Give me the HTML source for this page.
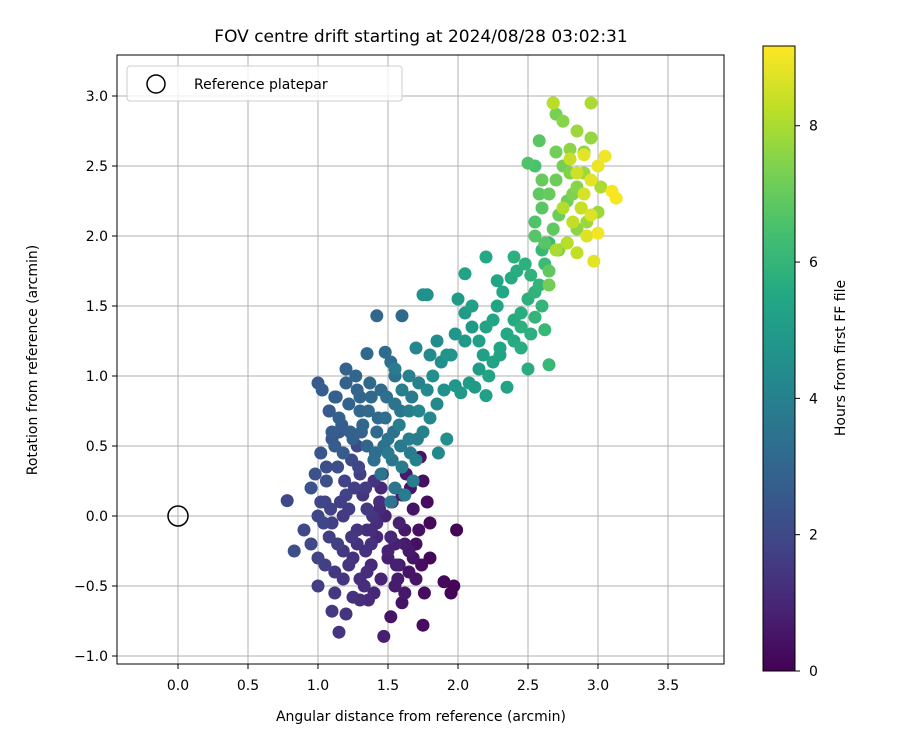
<!DOCTYPE html>
<html><head><meta charset="utf-8"><style>
body{margin:0;background:#fff;}
svg text{font-family:"DejaVu Sans","Liberation Sans",sans-serif;fill:#000;}
</style></head><body>
<svg id="chart" width="900" height="750" xmlns="http://www.w3.org/2000/svg">
<defs>
<linearGradient id="vir" x1="0" y1="1" x2="0" y2="0">
<stop offset="0" stop-color="#440154"/><stop offset="0.1" stop-color="#482475"/><stop offset="0.2" stop-color="#414487"/><stop offset="0.3" stop-color="#355f8d"/><stop offset="0.4" stop-color="#2a788e"/><stop offset="0.5" stop-color="#21918c"/><stop offset="0.6" stop-color="#22a884"/><stop offset="0.7" stop-color="#44bf70"/><stop offset="0.8" stop-color="#7ad151"/><stop offset="0.9" stop-color="#bddf26"/><stop offset="1" stop-color="#fde725"/>
</linearGradient>
<clipPath id="clip"><rect x="117" y="55" width="607" height="609"/></clipPath>
</defs>
<text x="421" y="42" font-size="17" text-anchor="middle">FOV centre drift starting at 2024/08/28 03:02:31</text>
<g id="grid"></g>
<g id="points" clip-path="url(#clip)"></g>
<circle id="refpt" r="10" fill="none" stroke="#000" stroke-width="1.5"/>
<rect x="117" y="55" width="607" height="609" fill="none" stroke="#000" stroke-width="1"/>
<g id="xticks"></g>
<g id="yticks"></g>
<text x="421" y="721" font-size="14" text-anchor="middle">Angular distance from reference (arcmin)</text>
<text transform="translate(37,360) rotate(-90)" font-size="14" text-anchor="middle">Rotation from reference (arcmin)</text>
<g>
<rect x="127" y="66" width="275" height="35" rx="3" fill="#fff" fill-opacity="0.8" stroke="#ccc"/>
<circle cx="156" cy="84" r="9" fill="none" stroke="#000" stroke-width="1.5"/>
<text x="194" y="89" font-size="14">Reference platepar</text>
</g>
<rect x="763" y="46" width="32" height="625" fill="url(#vir)" stroke="#000" stroke-width="1"/>
<g id="cticks"></g>
<text transform="translate(845,358) rotate(-90)" font-size="14" text-anchor="middle">Hours from first FF file</text>
</svg>
<script>
const xTickVals=[0.0,0.5,1.0,1.5,2.0,2.5,3.0,3.5];
const yTickVals=[-1.0,-0.5,0.0,0.5,1.0,1.5,2.0,2.5,3.0];
const cTickVals=[0,2,4,6,8];
const xVals=[
1.99,1.97,1.95,1.90,1.76,1.75,1.52,1.47,1.60,1.80,
1.80,1.78,1.75,1.73,1.70,1.65,1.62,1.58,1.55,1.68,
1.50,1.45,1.55,1.60,1.65,1.40,1.42,1.70,1.72,1.63,
1.48,1.53,1.58,1.38,1.66,1.74,1.35,1.45,1.57,1.62,
0.78,0.83,0.90,0.95,1.00,1.10,1.15,1.20,1.25,1.30,
0.95,1.00,1.05,1.08,1.12,1.18,1.22,1.28,1.32,1.38,
0.98,1.02,1.06,1.10,1.14,1.20,1.24,1.30,1.35,1.40,
1.00,1.05,1.12,1.18,1.25,1.30,1.35,1.40,1.15,1.08,
1.02,1.10,1.18,1.26,1.34,1.42,1.44,1.28,1.16,1.06,
1.00,1.03,1.08,1.13,1.20,1.27,1.35,1.42,1.48,1.60,
1.10,1.15,1.22,1.30,1.38,1.45,1.52,1.55,1.25,1.18,
1.35,1.42,1.48,1.55,1.32,1.40,1.50,1.28,1.20,1.12,
1.45,1.50,1.55,1.60,1.65,1.70,1.75,1.80,1.85,1.58,
1.62,1.68,1.72,1.78,1.82,1.88,1.92,1.98,2.05,2.10,
1.75,1.78,1.70,1.65,1.60,1.55,2.00,2.05,1.95,1.90,
1.98,2.02,2.08,2.12,2.15,1.85,1.80,1.72,1.65,1.52,
2.20,2.22,2.25,2.30,2.35,2.40,2.45,2.50,2.55,2.60,
2.15,2.20,2.28,2.32,2.38,2.42,2.48,2.52,2.58,2.62,
2.05,2.10,2.20,2.25,2.30,2.40,2.45,2.50,2.55,2.65,
2.60,2.62,2.65,2.55,2.40,2.35,2.18,2.28,2.45,2.52,
2.55,2.60,2.65,2.70,2.75,2.80,2.85,2.90,2.95,2.58,
2.62,2.68,2.72,2.78,2.82,2.88,2.50,2.55,2.65,2.70,
2.75,2.80,2.85,2.90,2.95,3.00,2.60,2.70,2.72,2.68,
2.85,2.78,2.65,2.58,2.92,3.02,
2.80,2.85,2.90,2.95,3.00,3.05,3.10,3.13,2.97,2.92,
2.82,2.88,2.95,2.78,2.85,2.90,3.00,2.75,2.70,2.68,
1.22,1.28,1.33,1.38,1.44,1.50,1.56,1.62,1.68,1.36,
1.04,1.09,1.14,1.19,1.24,1.29,1.34,1.39,1.46,1.52,
1.12,1.17,1.23,1.31,1.37,1.43,1.49,1.54,1.59,1.67,
1.30,1.36,1.41,1.47,1.53,1.59,1.66,1.71,1.86,1.92];
const yVals=[
-0.10,-0.50,-0.55,-0.47,-0.55,-0.78,-0.72,-0.86,-0.62,-0.30,
-0.05,0.10,0.25,0.42,-0.20,-0.40,-0.10,-0.35,-0.50,0.05,
-0.30,-0.45,-0.20,0.15,-0.25,-0.55,-0.15,-0.45,-0.10,0.30,
0.00,0.10,-0.05,-0.35,0.20,-0.35,-0.10,0.20,-0.45,-0.55,
0.11,-0.25,-0.10,0.20,-0.30,-0.68,-0.83,-0.70,-0.58,-0.45,
-0.20,0.00,0.10,-0.15,-0.40,-0.25,0.05,-0.10,0.15,-0.20,
0.30,0.45,0.25,0.55,0.35,0.15,0.40,0.30,0.05,0.25,
-0.50,-0.35,-0.55,-0.45,-0.30,-0.60,-0.40,0.40,0.60,0.75,
0.10,-0.05,0.00,0.20,-0.25,-0.05,0.10,0.50,0.10,0.35,
0.95,0.90,0.75,0.85,0.95,1.00,1.16,1.43,1.17,1.43,
0.60,0.70,0.80,0.75,0.85,0.90,1.10,1.00,0.55,0.45,
0.50,0.60,0.70,0.80,0.65,0.40,0.55,0.90,1.05,0.50,
0.30,0.45,0.20,0.35,0.55,0.40,0.60,0.70,0.80,0.65,
0.15,0.25,0.75,0.90,1.00,1.10,1.15,1.30,1.25,1.35,
1.58,1.58,1.20,1.00,0.90,1.05,1.55,1.45,1.15,0.90,
0.93,0.88,0.95,0.92,1.05,1.25,1.15,0.95,0.75,0.10,
0.86,1.00,1.10,1.20,1.30,1.40,1.45,1.55,1.60,1.50,
1.25,1.35,1.50,1.60,1.70,1.75,1.80,1.72,1.65,1.33,
1.73,1.50,1.85,1.40,1.15,1.25,1.35,1.05,1.42,1.08,
1.90,1.80,1.95,2.50,1.85,0.92,1.15,1.68,1.20,1.30,
2.10,2.20,2.30,2.40,2.50,2.45,2.35,2.60,2.70,2.68,
1.95,2.05,2.15,2.25,2.30,2.20,2.52,2.00,1.75,2.60,
2.82,2.62,2.75,2.45,2.95,2.17,2.40,2.87,1.90,2.95,
2.05,1.95,1.65,2.30,2.10,2.35,
2.55,2.45,2.30,2.15,2.50,2.57,2.32,2.27,1.82,2.00,
2.10,2.20,2.40,1.95,1.88,2.58,2.02,2.20,1.90,2.95,
-0.35,-0.20,-0.50,-0.10,0.05,-0.25,-0.35,-0.20,-0.30,-0.60,
-0.05,0.05,-0.20,0.25,-0.15,0.35,0.20,0.00,0.30,-0.15,
0.85,0.65,0.60,0.60,0.95,0.70,0.85,0.60,0.75,0.85,
0.85,0.75,0.45,0.50,0.40,0.50,0.45,0.55,0.45,0.55];
const hourVals=[
0.1,0.1,0.1,0.2,0.3,0.3,0.5,0.8,0.5,0.2,
0.2,0.3,0.4,0.5,0.4,0.5,0.6,0.7,0.7,0.5,
0.8,0.9,0.8,0.6,0.6,1.0,1.0,0.5,0.4,0.7,
0.9,0.9,0.8,1.1,0.5,0.3,1.2,1.0,0.7,0.6,
2.0,2.2,2.0,2.3,1.8,1.5,1.4,1.4,1.3,1.2,
2.0,1.9,1.8,1.7,1.5,1.5,1.6,1.4,1.4,1.3,
2.3,2.4,2.2,2.5,2.2,1.8,2.0,1.7,1.5,1.4,
1.7,1.7,1.5,1.4,1.3,1.2,1.2,1.5,2.5,2.6,
1.9,1.7,1.6,1.7,1.3,1.2,1.2,2.0,1.7,2.2,
2.6,2.7,2.6,2.8,2.9,3.0,3.1,3.0,3.2,3.1,
2.7,2.8,2.9,3.0,3.1,3.2,3.3,3.4,2.8,2.6,
3.0,3.2,3.3,3.5,3.0,3.3,3.5,2.9,2.9,2.6,
3.6,3.7,3.6,3.8,3.9,4.0,4.0,4.2,4.3,3.9,
3.8,3.9,4.2,4.3,4.5,4.5,4.7,4.8,4.9,4.9,
4.6,4.6,4.2,4.0,3.9,3.8,5.0,5.0,4.7,4.6,
4.8,4.9,5.0,5.0,5.0,4.4,4.3,4.0,3.9,3.6,
5.2,5.3,5.3,5.4,5.5,5.6,5.7,5.8,5.9,6.0,
5.2,5.3,5.4,5.5,5.6,5.7,5.8,5.9,6.0,6.1,
5.3,5.2,5.5,5.4,5.3,5.6,5.8,5.7,6.0,6.1,
6.1,6.2,6.2,6.5,5.8,5.3,5.2,5.4,5.7,5.8,
6.6,6.8,7.0,7.1,7.2,7.4,7.5,7.6,7.7,6.8,
6.7,6.9,7.1,7.2,7.4,7.6,6.6,6.7,6.9,7.2,
7.5,7.6,7.8,7.8,8.0,7.8,7.0,7.3,7.4,7.6,
7.6,7.5,7.2,6.9,7.8,8.0,
8.4,8.5,8.6,8.7,8.9,9.0,9.1,9.1,8.8,8.7,
8.3,8.4,8.8,8.2,8.3,8.8,9.0,8.1,8.0,8.2,
1.4,1.3,1.2,1.2,1.1,0.9,0.8,0.7,0.5,1.1,
1.9,1.8,1.7,1.8,1.5,1.9,1.6,1.4,1.4,1.0,
2.8,2.7,2.8,2.9,3.1,3.1,3.3,3.4,3.6,3.8,
3.0,3.1,3.3,3.4,3.6,3.7,3.8,3.9,4.3,4.5];
const hourMax=9.17;
const NS="http://www.w3.org/2000/svg";
function sx(v){return 178+v*140;}
function sy(v){return 516-v*140;}
function cy(h){return 671-h*(625/hourMax);}
const vir=["#440154","#482475","#414487","#355f8d","#2a788e","#21918c","#22a884","#44bf70","#7ad151","#bddf26","#fde725"];
function hex(c){return [1,3,5].map(i=>parseInt(c.substr(i,2),16));}
function viridis(t){t=Math.max(0,Math.min(1,t));const p=t*10;const i=Math.min(9,Math.floor(p));const f=p-i;const a=hex(vir[i]),b=hex(vir[i+1]);return "rgb("+a.map((v,k)=>Math.round(v+(b[k]-v)*f)).join(",")+")";}
const grid=document.getElementById("grid"),xt=document.getElementById("xticks"),yt=document.getElementById("yticks"),ct=document.getElementById("cticks");
xTickVals.forEach(v=>{
const l=document.createElementNS(NS,"line");l.setAttribute("x1",sx(v));l.setAttribute("x2",sx(v));l.setAttribute("y1",55);l.setAttribute("y2",664);l.setAttribute("stroke","#b0b0b0");l.setAttribute("stroke-width","1");


grid.appendChild(l);
const t=document.createElementNS(NS,"line");t.setAttribute("x1",sx(v));t.setAttribute("x2",sx(v));t.setAttribute("y1",664);t.setAttribute("y2",669);t.setAttribute("stroke","#000");


xt.appendChild(t);
const s=document.createElementNS(NS,"text");s.setAttribute("x",sx(v));s.setAttribute("y",690);s.setAttribute("font-size","14");s.setAttribute("text-anchor","middle");s.textContent=v.toFixed(1);


xt.appendChild(s);
});
yTickVals.forEach(v=>{
const l=document.createElementNS(NS,"line");l.setAttribute("x1",117);l.setAttribute("x2",724);l.setAttribute("y1",sy(v));l.setAttribute("y2",sy(v));l.setAttribute("stroke","#b0b0b0");l.setAttribute("stroke-width","1");


grid.appendChild(l);
const t=document.createElementNS(NS,"line");t.setAttribute("x1",112);t.setAttribute("x2",117);t.setAttribute("y1",sy(v));t.setAttribute("y2",sy(v));t.setAttribute("stroke","#000");


yt.appendChild(t);
const s=document.createElementNS(NS,"text");s.setAttribute("x",108);s.setAttribute("y",sy(v)+5);s.setAttribute("font-size","14");s.setAttribute("text-anchor","end");s.textContent=v.toFixed(1).replace("-","\u2212");


yt.appendChild(s);
});
cTickVals.forEach(v=>{
const t=document.createElementNS(NS,"line");t.setAttribute("x1",795);t.setAttribute("x2",800);t.setAttribute("y1",cy(v));t.setAttribute("y2",cy(v));t.setAttribute("stroke","#000");


ct.appendChild(t);
const s=document.createElementNS(NS,"text");s.setAttribute("x",809);s.setAttribute("y",cy(v)+5);s.setAttribute("font-size","14");s.textContent=String(v);


ct.appendChild(s);
});
const pg=document.getElementById("points");
const order=hourVals.map((h,i)=>i).sort((a,b)=>hourVals[a]-hourVals[b]);
order.forEach(i=>{
const c=document.createElementNS(NS,"circle");c.setAttribute("cx",sx(xVals[i]));c.setAttribute("cy",sy(yVals[i]));c.setAttribute("r","6.5");c.setAttribute("fill",viridis(hourVals[i]/hourMax));


pg.appendChild(c);
});
const rp=document.getElementById("refpt");rp.setAttribute("cx",sx(0));rp.setAttribute("cy",sy(0));
</script>
</body></html>
